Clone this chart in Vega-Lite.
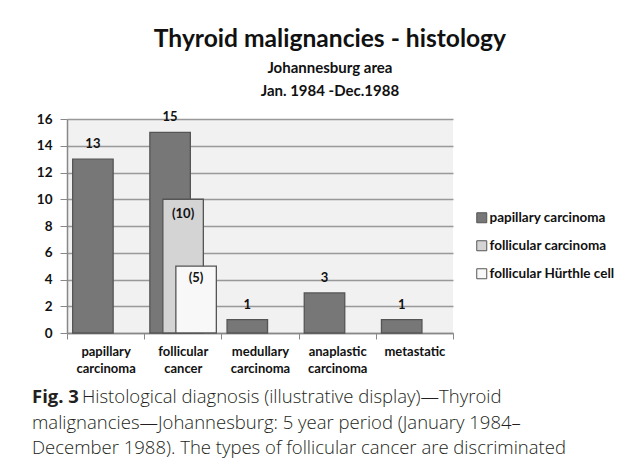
{
  "$schema": "https://vega.github.io/schema/vega-lite/v6.json",
  "background": "white",
  "padding": {"left": 32, "top": 27, "right": 5, "bottom": 5},
  "spacing": 9,
  "config": {
    "font": "Lato",
    "view": {"stroke": null}
  },
  "vconcat": [
    {
      "width": 386,
      "height": 214,
      "view": {"fill": "#f1f1f1", "stroke": null},
      "title": {
        "text": "Thyroid malignancies - histology",
        "subtitle": ["Johannesburg area", "Jan. 1984 -Dec.1988"],
        "anchor": "middle",
        "frame": "bounds",
        "dx": 85,
        "font": "Lato",
        "fontSize": 24.6,
        "fontWeight": "bold",
        "color": "#111111",
        "subtitleFont": "Lato",
        "subtitleFontSize": 15,
        "subtitleFontWeight": "bold",
        "subtitleColor": "#111111",
        "subtitleLineHeight": 23.5,
        "subtitlePadding": 8,
        "offset": 11
      },
      "data": {
        "values": [
          {"category": "papillary carcinoma", "series": "papillary carcinoma", "count": 13, "label": "13"},
          {"category": "follicular cancer", "series": "papillary carcinoma", "count": 15, "label": "15"},
          {"category": "follicular cancer", "series": "follicular carcinoma", "count": 10, "label": "(10)"},
          {"category": "follicular cancer", "series": "follicular Hürthle cell", "count": 5, "label": "(5)"},
          {"category": "medullary carcinoma", "series": "papillary carcinoma", "count": 1, "label": "1"},
          {"category": "anaplastic carcinoma", "series": "papillary carcinoma", "count": 3, "label": "3"},
          {"category": "metastatic", "series": "papillary carcinoma", "count": 1, "label": "1"}
        ]
      },
      "encoding": {
        "x": {
          "field": "category",
          "type": "nominal",
          "sort": ["papillary carcinoma", "follicular cancer", "medullary carcinoma", "anaplastic carcinoma", "metastatic"],
          "scale": {"paddingInner": 0, "paddingOuter": 0},
          "axis": {
            "title": null,
            "labelAngle": 0,
            "labelExpr": "split(datum.label, ' ')",
            "labelFont": "Lato",
            "labelFontWeight": "bold",
            "labelFontSize": 13,
            "labelColor": "#111111",
            "labelLineHeight": 17,
            "labelPadding": 6,
            "tickBand": "extent",
            "tickSize": 6,
            "tickColor": "#888888",
            "domainColor": "#888888",
            "domainWidth": 1.5,
            "grid": false
          }
        },
        "y": {
          "field": "count",
          "type": "quantitative",
          "scale": {"domain": [0, 16], "nice": false},
          "axis": {
            "title": null,
            "values": [0, 2, 4, 6, 8, 10, 12, 14, 16],
            "grid": true,
            "gridColor": "#999999",
            "gridWidth": 1.6,
            "labelFont": "Lato",
            "labelFontWeight": "bold",
            "labelFontSize": 13.5,
            "labelColor": "#111111",
            "labelPadding": 8,
            "tickSize": 7,
            "tickColor": "#888888",
            "domainColor": "#888888",
            "domainWidth": 1.5
          }
        }
      },
      "layer": [
        {
          "transform": [{"filter": "datum.series === 'papillary carcinoma'"}],
          "mark": {"type": "bar", "width": 40.5, "xOffset": -12.7, "stroke": "#555555", "strokeWidth": 1.3},
          "encoding": {
            "color": {
              "field": "series",
              "type": "nominal",
              "scale": {"domain": ["papillary carcinoma", "follicular carcinoma", "follicular Hürthle cell"], "range": ["#777777", "#d4d4d4", "#f8f8f8"]},
              "legend": {
                "title": null,
                "orient": "none",
                "legendX": 408,
                "legendY": 92,
                "padding": 0,
                "symbolType": "square",
                "symbolSize": 100,
                "symbolStrokeColor": "#555555",
                "symbolStrokeWidth": 1,
                "labelFont": "Lato",
                "labelFontWeight": "bold",
                "labelFontSize": 13.5,
                "labelColor": "#111111",
                "labelOffset": 1,
                "rowPadding": 13
              }
            }
          }
        },
        {
          "transform": [{"filter": "datum.series === 'follicular carcinoma'"}],
          "mark": {"type": "bar", "width": 40.5, "xOffset": 0.3, "stroke": "#555555", "strokeWidth": 1.3},
          "encoding": {
            "color": {"field": "series", "type": "nominal"}
          }
        },
        {
          "transform": [{"filter": "datum.series === 'follicular Hürthle cell'"}],
          "mark": {"type": "bar", "width": 40.5, "xOffset": 13.3, "stroke": "#555555", "strokeWidth": 1.3},
          "encoding": {
            "color": {"field": "series", "type": "nominal"}
          }
        },
        {
          "transform": [{"filter": "datum.series === 'papillary carcinoma'"}],
          "mark": {"type": "text", "xOffset": -12.7, "dy": -15, "baseline": "middle", "font": "Lato", "fontWeight": "bold", "fontSize": 13, "color": "#111111"},
          "encoding": {"text": {"field": "label"}}
        },
        {
          "transform": [{"filter": "datum.series === 'follicular carcinoma'"}],
          "mark": {"type": "text", "xOffset": 0.3, "dy": 15, "baseline": "middle", "font": "Lato", "fontWeight": "bold", "fontSize": 13, "color": "#111111"},
          "encoding": {"text": {"field": "label"}}
        },
        {
          "transform": [{"filter": "datum.series === 'follicular Hürthle cell'"}],
          "mark": {"type": "text", "xOffset": 13.3, "dy": 12, "baseline": "middle", "font": "Lato", "fontWeight": "bold", "fontSize": 13, "color": "#111111"},
          "encoding": {"text": {"field": "label"}}
        }
      ]
    },
    {
      "width": 560,
      "height": 77,
      "view": {"fill": null, "stroke": null},
      "data": {
        "values": [
          {"line": 1, "lead": "Fig. 3", "text": "Histological diagnosis (illustrative display)—Thyroid"},
          {"line": 2, "lead": "", "text": "malignancies—Johannesburg: 5 year period (January 1984–"},
          {"line": 3, "lead": "", "text": "December 1988). The types of follicular cancer are discriminated"}
        ]
      },
      "encoding": {
        "x": {"datum": 0, "type": "quantitative", "scale": {"domain": [0, 1]}, "axis": null},
        "y": {"field": "line", "type": "ordinal", "axis": null}
      },
      "layer": [
        {
          "transform": [{"filter": "datum.line === 1"}],
          "mark": {"type": "text", "align": "left", "baseline": "middle", "dx": -35, "font": "Open Sans", "fontWeight": "bold", "fontSize": 18.5, "color": "#231f20"},
          "encoding": {"text": {"field": "lead"}}
        },
        {
          "transform": [{"filter": "datum.line === 1"}],
          "mark": {"type": "text", "align": "left", "baseline": "middle", "dx": 15, "font": "Open Sans", "fontWeight": 300, "fontSize": 18.5, "color": "#231f20"},
          "encoding": {"text": {"field": "text"}}
        },
        {
          "transform": [{"filter": "datum.line > 1"}],
          "mark": {"type": "text", "align": "left", "baseline": "middle", "dx": -35, "font": "Open Sans", "fontWeight": 300, "fontSize": 18.5, "color": "#231f20"},
          "encoding": {"text": {"field": "text"}}
        }
      ]
    }
  ]
}
